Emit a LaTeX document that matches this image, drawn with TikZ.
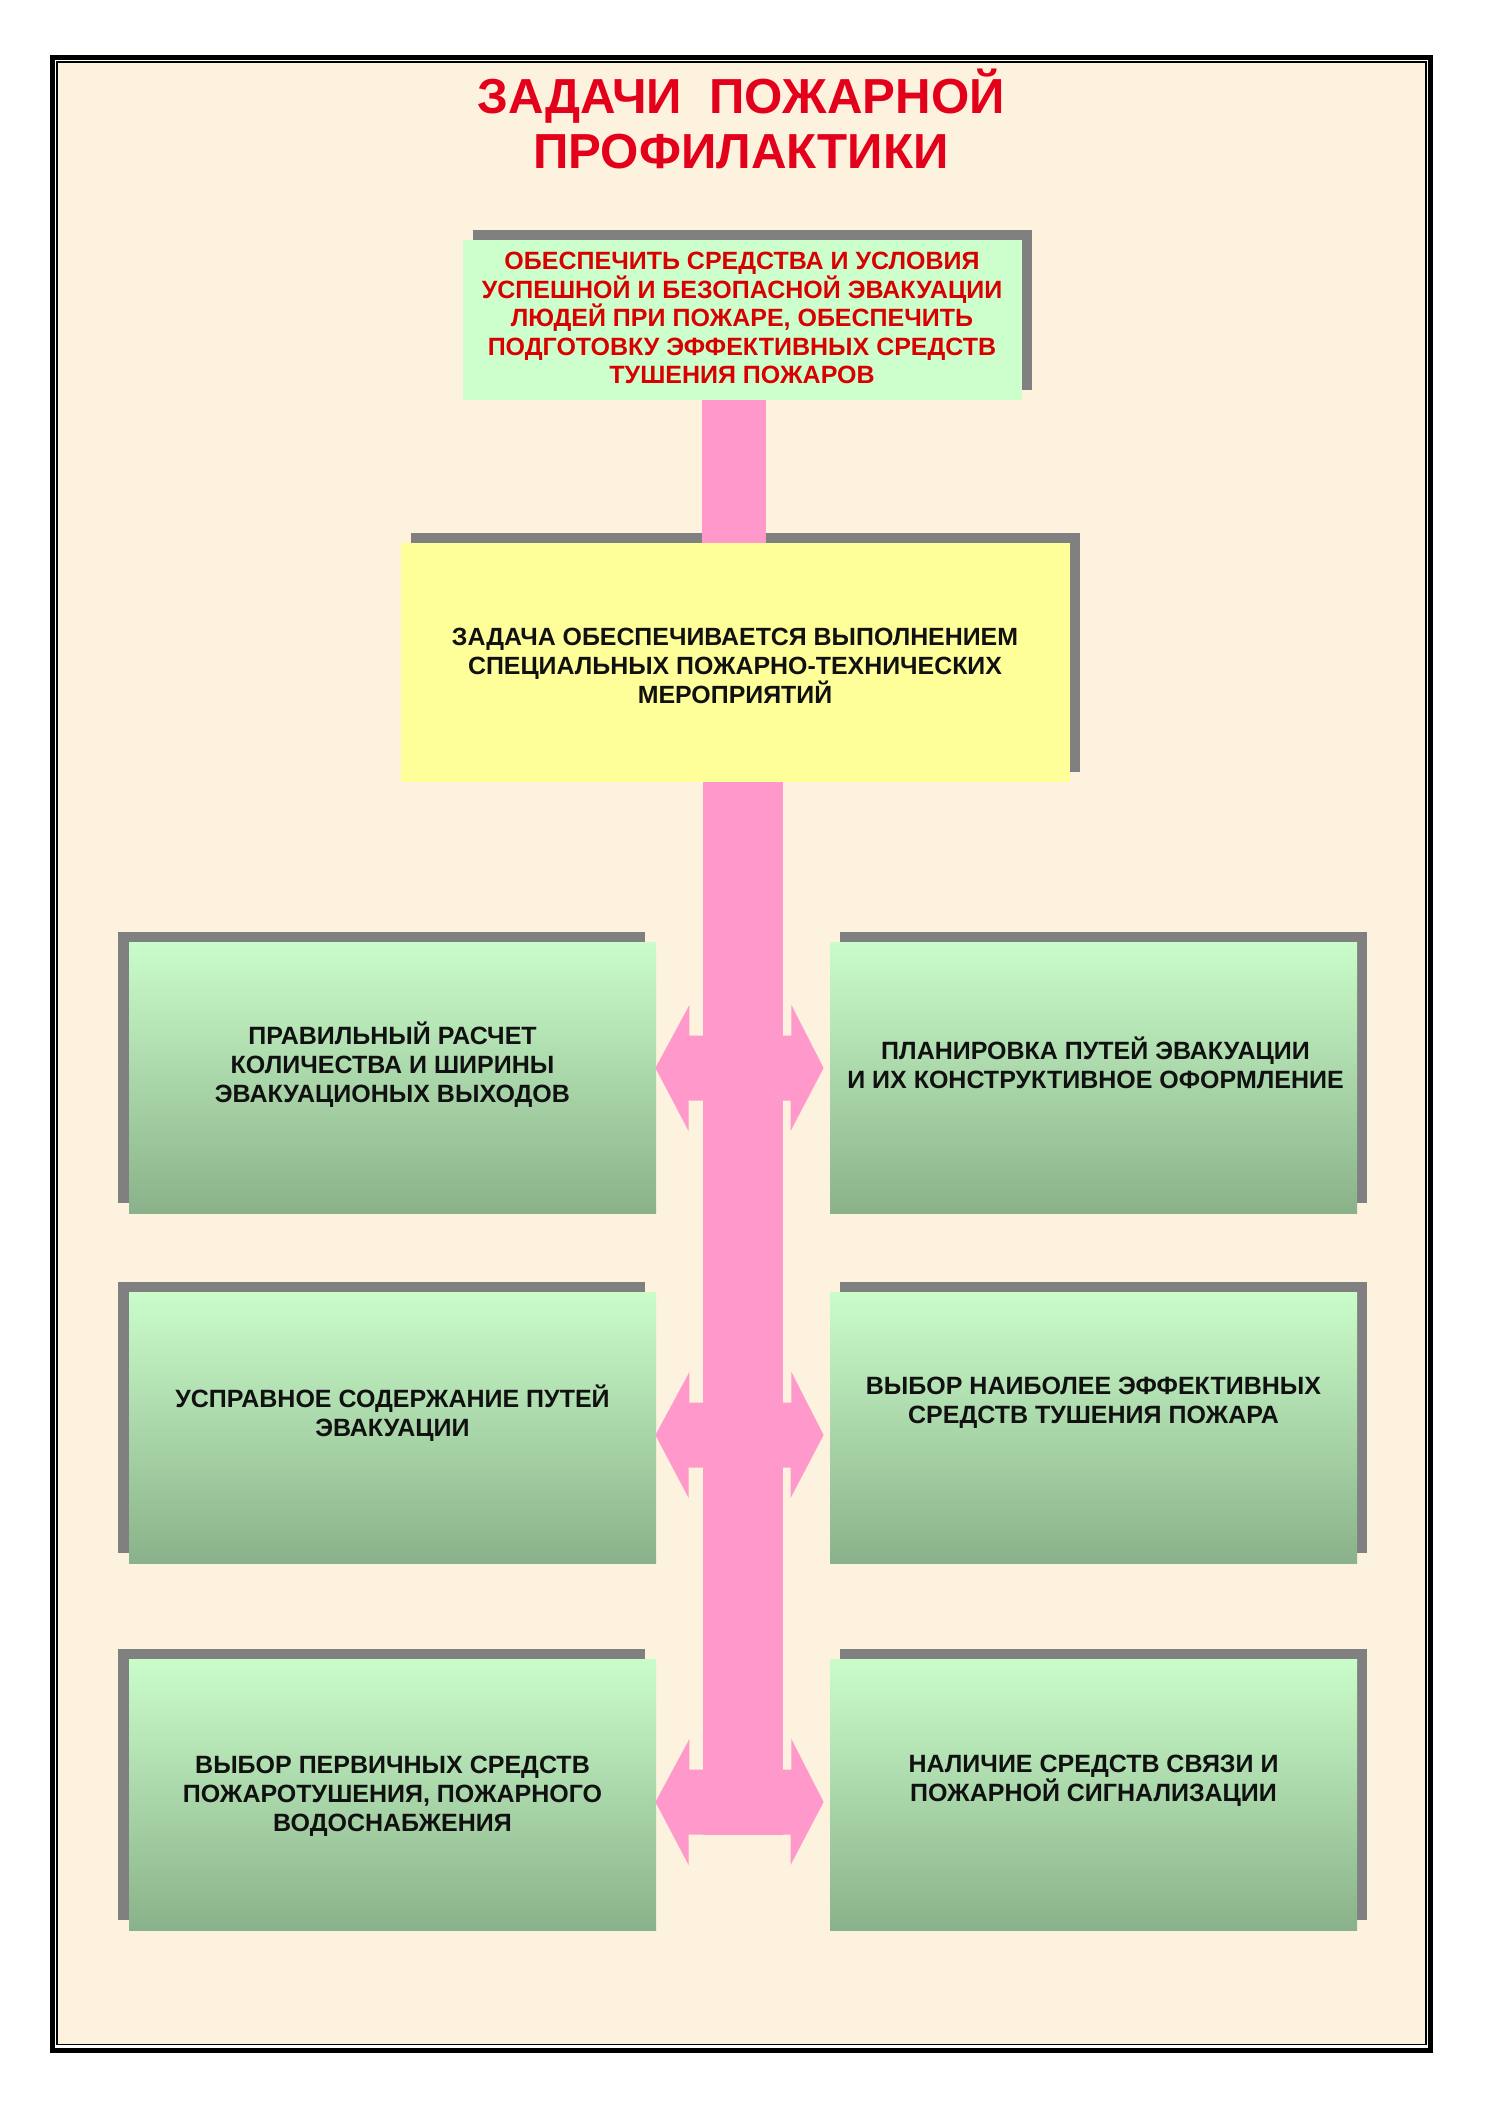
\documentclass[tikz,border=0pt]{standalone}
\usepackage{fontspec}
\setmainfont{Liberation Sans}
\usetikzlibrary{calc,shadows}
\definecolor{bgc}{HTML}{FDF2DD}
\definecolor{pinkc}{HTML}{FF99CC}
\definecolor{yelc}{HTML}{FFFF99}
\definecolor{topg}{HTML}{CCFFCC}
\definecolor{shc}{HTML}{808080}
\definecolor{titred}{HTML}{E3001B}
\definecolor{txtred}{HTML}{D80000}
\definecolor{glight}{HTML}{CAFCCA}
\definecolor{gdark}{HTML}{8AB28A}
\definecolor{txtc}{HTML}{111111}
\begin{document}
\begin{tikzpicture}[x=0.5pt,y=-0.5pt,
  titlef/.style={font=\bfseries\fontsize{24.6}{27.5}\selectfont, text=titred, inner sep=0pt},
  boxtxt/.style={font=\bfseries\fontsize{12.5}{14.5}\selectfont, text=txtc, align=center, inner sep=0pt},
  toptxt/.style={font=\bfseries\fontsize{12.5}{14.3}\selectfont, text=txtred, align=center, inner sep=0pt},
  yeltxt/.style={font=\bfseries\fontsize{12.45}{14.5}\selectfont, text=txtc, align=center, inner sep=0pt},
  plainbox/.style={rectangle, inner sep=0pt, draw=none},
  shadowR/.style={general shadow={fill=shc, shadow xshift=5pt, shadow yshift=5pt}},
  shadowL/.style={general shadow={fill=shc, shadow xshift=-5.5pt, shadow yshift=5pt}},
  gbox/.style={plainbox, minimum width=263.5pt, minimum height=135.5pt, top color=glight, bottom color=gdark}
]
\useasboundingbox (0,0) rectangle (1491,2109);
\fill[white] (0,0) rectangle (1491,2109);
% frame
\fill[bgc] (57,62) rectangle (1426,2044.5);
\draw[line width=0.75pt, black] (57,62) rectangle (1426,2044.5);
\draw[line width=2.6pt, black] (52.5,57.5) rectangle (1430.5,2050.5);

% title
\node[titlef, anchor=base] (title1) at (741,113) {ЗАДАЧИ\ \ ПОЖАРНОЙ};
\node[titlef, anchor=base] (title2) at (741,168) {ПРОФИЛАКТИКИ};

% top box
\node[plainbox, fill=topg, shadowR, minimum width=279.5pt, minimum height=80pt] (top) at (742.5,320) {};
\node[toptxt] (toptext) at (742,318) {ОБЕСПЕЧИТЬ СРЕДСТВА И УСЛОВИЯ\\УСПЕШНОЙ И БЕЗОПАСНОЙ ЭВАКУАЦИИ\\ЛЮДЕЙ ПРИ ПОЖАРЕ, ОБЕСПЕЧИТЬ\\ПОДГОТОВКУ ЭФФЕКТИВНЫХ СРЕДСТВ\\ТУШЕНИЯ ПОЖАРОВ};

% yellow box
\node[plainbox, fill=yelc, shadowR, minimum width=334.5pt, minimum height=119.5pt] (yel) at (735.5,662.5) {};
\node[yeltxt] (yeltext) at (735,666) {ЗАДАЧА ОБЕСПЕЧИВАЕТСЯ ВЫПОЛНЕНИЕМ\\СПЕЦИАЛЬНЫХ ПОЖАРНО-ТЕХНИЧЕСКИХ\\МЕРОПРИЯТИЙ};

% green boxes
\node[gbox, shadowL] (L1) at (392.5,1077.5) {};
\node[gbox, shadowR] (R1) at (1093.5,1077.5) {};
\node[gbox, shadowL] (L2) at (392.5,1427.5) {};
\node[gbox, shadowR] (R2) at (1093.5,1427.5) {};
\node[gbox, shadowL] (L3) at (392.5,1794.5) {};
\node[gbox, shadowR] (R3) at (1093.5,1794.5) {};

% pink trunk (connectors)
\fill[pinkc] (702,0 |- top.south) rectangle (766,0 |- yel.north);
\fill[pinkc] (703,0 |- yel.south) rectangle (783,1835);

% double arrows between the trunk and the boxes
\newcommand\dblarr[3]{%
  \fill[pinkc] ($(#1.east |- 0,#3)+(-1,0)$) -- ++(34,-63) -- ++(0,30.5) -- ++(102,0) -- ++(0,-30.5)
    -- ($(#2.west |- 0,#3)+(-6,0)$) -- ++(-33,63) -- ++(0,-30.5) -- ++(-102,0) -- ++(0,30.5) -- cycle;}
\dblarr{L1}{R1}{1068}
\dblarr{L2}{R2}{1435}
\dblarr{L3}{R3}{1802}

% box texts
\node[boxtxt] (tL1) at ($(L1.center)+(0,-13)$) {ПРАВИЛЬНЫЙ РАСЧЕТ\\КОЛИЧЕСТВА И ШИРИНЫ\\ЭВАКУАЦИОНЫХ ВЫХОДОВ};
\node[boxtxt] (tR1) at ($(R1.center)+(2,-15)$) {ПЛАНИРОВКА ПУТЕЙ ЭВАКУАЦИИ\\И ИХ КОНСТРУКТИВНОЕ ОФОРМЛЕНИЕ};
\node[boxtxt] (tL2) at ($(L2.center)+(0,-14)$) {УСПРАВНОЕ СОДЕРЖАНИЕ ПУТЕЙ\\ЭВАКУАЦИИ};
\node[boxtxt] (tR2) at ($(R2.center)+(0,-25)$) {ВЫБОР НАИБОЛЕЕ ЭФФЕКТИВНЫХ\\СРЕДСТВ ТУШЕНИЯ ПОЖАРА};
\node[boxtxt] (tL3) at ($(L3.center)+(0,2)$) {ВЫБОР ПЕРВИЧНЫХ СРЕДСТВ\\ПОЖАРОТУШЕНИЯ, ПОЖАРНОГО\\ВОДОСНАБЖЕНИЯ};
\node[boxtxt] (tR3) at ($(R3.center)+(0,-14)$) {НАЛИЧИЕ СРЕДСТВ СВЯЗИ И\\ПОЖАРНОЙ СИГНАЛИЗАЦИИ};
\end{tikzpicture}
\end{document}
